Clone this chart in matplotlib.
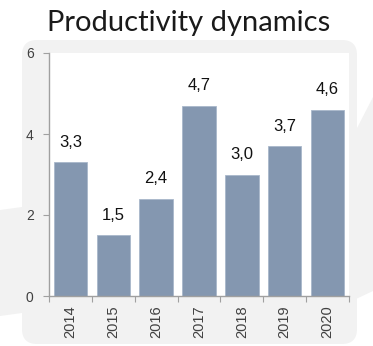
import matplotlib
matplotlib.use("Agg")
import matplotlib.pyplot as plt
from matplotlib.patches import FancyBboxPatch, Polygon

years = ["2014", "2015", "2016", "2017", "2018", "2019", "2020"]
productivity = [3.3, 1.5, 2.4, 4.7, 3.0, 3.7, 4.6]
value_labels = ["3,3", "1,5", "2,4", "4,7", "3,0", "3,7", "4,6"]
y_ticks = [0, 2, 4, 6]

W, H = 373, 346
fig = plt.figure(figsize=(W / 100, H / 100), dpi=100, facecolor="white")

# Background decoration in pixel coordinates
bg = fig.add_axes([0, 0, 1, 1], zorder=-1)
bg.set_xlim(0, W)
bg.set_ylim(H, 0)
bg.axis("off")
gray = "#f2f2f2"
bg.add_patch(Polygon([(0, 210), (22, 207), (22, 313), (0, 316)],
                     closed=True, facecolor=gray, edgecolor="none"))
bg.add_patch(Polygon([(356, 130), (373, 97), (373, 291), (356, 299)],
                     closed=True, facecolor=gray, edgecolor="none"))
bg.add_patch(FancyBboxPatch((37, 55), 305, 274,
                            boxstyle="round,pad=15",
                            facecolor=gray, edgecolor="none"))
bg.text(189, 23, "Productivity dynamics", ha="center", va="center",
        fontsize=21, family="Lato", color="#1a1a1a")

# Bar chart
left, right, top, bottom = 49, 349, 53, 296
ax = fig.add_axes([left / W, (H - bottom) / H, (right - left) / W, (bottom - top) / H])
ax.set_facecolor("white")
x = range(len(years))
bars = ax.bar(x, productivity, width=0.78, color="#8497b0",
              edgecolor="#a9b7ca", linewidth=0.6)
ax.set_xlim(-0.5, len(years) - 0.5)
ax.set_ylim(0, 6)

for xi, v, lbl in zip(x, productivity, value_labels):
    ax.annotate(lbl, (xi, v), xytext=(0, 9), textcoords="offset points",
                ha="center", va="bottom", fontsize=12,
                family="Liberation Sans", color="#111111")

axis_color = "#a0a0a0"
for side in ("top", "right"):
    ax.spines[side].set_visible(False)
for side in ("left", "bottom"):
    ax.spines[side].set_color(axis_color)
    ax.spines[side].set_linewidth(1.0)

ax.set_yticks(y_ticks)
ax.set_yticklabels([str(t) for t in y_ticks], family="Liberation Sans",
                   fontsize=10, color="#404040")
ax.tick_params(axis="y", length=4, color=axis_color, pad=7)

# Category ticks sit between bars; labels sit under bar centres
ax.set_xticks([i - 0.5 for i in range(len(years) + 1)])
ax.set_xticklabels([])
ax.set_xticks(list(x), minor=True)
ax.set_xticklabels(years, minor=True, rotation=90, family="Liberation Sans",
                   fontsize=10.5, color="#404040")
ax.tick_params(axis="x", which="major", length=4, color=axis_color)
ax.tick_params(axis="x", which="minor", length=0, pad=7)

fig.savefig("out.png", dpi=100, facecolor="white")
